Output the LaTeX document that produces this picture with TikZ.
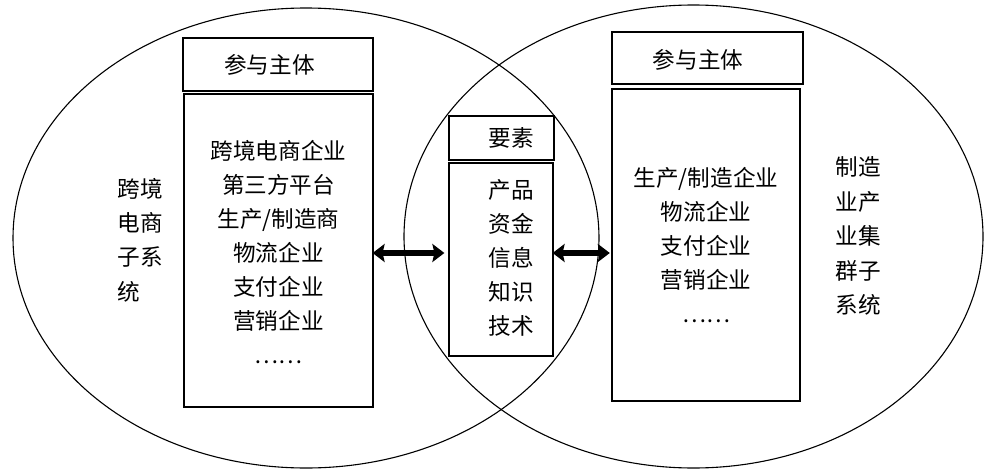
\documentclass[tikz,border=0pt]{standalone}
\usepackage{fontspec}
\newfontfamily\cjk{Noto Sans CJK SC}
\usetikzlibrary{arrows.meta}
\begin{document}
\begin{tikzpicture}[x=0.5pt,y=-0.5pt,
  box/.style={draw,line width=0.6pt,fill=white,inner sep=0pt,rectangle},
  txt/.style={font=\cjk\fontsize{11.3}{17}\selectfont,align=center,inner sep=0pt},
  lbl/.style={font=\cjk\fontsize{11.3}{17.2}\selectfont,align=left,inner sep=0pt,anchor=west},
  dbl/.style={line width=2.9pt,{Stealth[length=6pt,width=9pt,inset=1pt]}-{Stealth[length=6pt,width=9pt,inset=1pt]}},
  ell/.style={line width=0.55pt}]
\useasboundingbox (0,0) rectangle (996,471);
% ellipses (subsystems)
\draw[ell] (306,238) ellipse [x radius=146.5pt, y radius=115pt];
\draw[ell] (693.5,236.5) ellipse [x radius=144.75pt, y radius=115.75pt];
% boxes
\node[box,minimum width=95pt,minimum height=26.5pt] (lh) at (278,64.5) {};
\node[box,minimum width=94.5pt,minimum height=156.5pt] (lc) at (278.5,250.5) {};
\node[box,minimum width=52.5pt,minimum height=22pt] (mh) at (501.5,138) {};
\node[box,minimum width=52pt,minimum height=96.5pt] (mc) at (501,259.5) {};
\node[box,minimum width=95.5pt,minimum height=26pt] (rh) at (707.5,58) {};
\node[box,minimum width=94pt,minimum height=156pt] (rc) at (706,245) {};
% texts
\node[txt] (lht) at (269.5,65) {参与主体};
\node[txt] (rht) at (698,60) {参与主体};
\node[txt] (mht) at (511,138) {要素};
\node[txt] (lct) at (278.5,252) {跨境电商企业\\第三方平台\\生产/制造商\\物流企业\\支付企业\\营销企业\\……};
\node[txt] (mct) at (511,258) {产品\\资金\\信息\\知识\\技术};
\node[txt] (rct) at (706,245.5) {生产/制造企业\\物流企业\\支付企业\\营销企业\\……};
\node[lbl] (ll) at (117,240) {跨境\\电商\\子系\\统};
\node[lbl] (rl) at (835,236) {制造\\业产\\业集\\群子\\系统};
% arrows
\coordinate (ay) at (0,253);
\draw[dbl] ([xshift=-0.5pt]lc.east |- ay) -- ([xshift=-2pt]mc.west |- ay);
\draw[dbl] ([xshift=-0.5pt]mc.east |- ay) -- ([xshift=-0.8pt]rc.west |- ay);
\end{tikzpicture}
\end{document}
